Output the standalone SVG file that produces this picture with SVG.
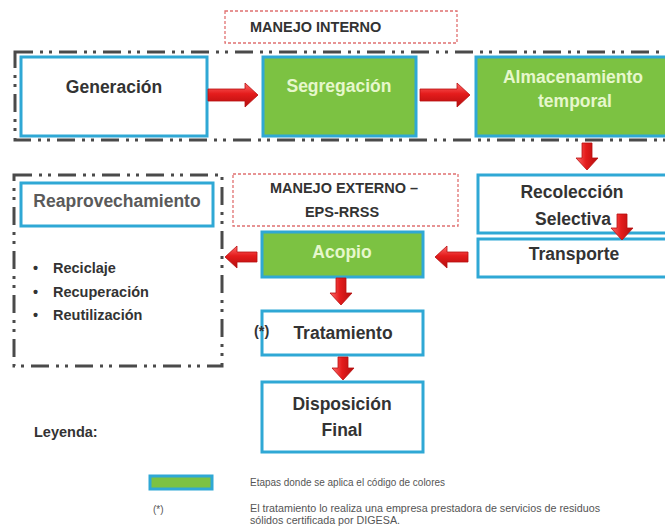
<svg xmlns="http://www.w3.org/2000/svg" width="665" height="528" viewBox="0 0 665 528">
<style>
  .node { stroke: #2fa8d5; stroke-width: 3; }
  .white { fill: #ffffff; }
  .green { fill: #7cc242; }
  .t { font-family: "Liberation Sans", Arial, sans-serif; font-weight: bold; font-size: 17.5px; text-anchor: middle; fill: #333333; }
  .tg { fill: #e6f7cc; }
  .tgray { fill: #5a5a5a; }
  .lbl { font-family: "Liberation Sans", Arial, sans-serif; font-weight: bold; font-size: 14.5px; fill: #333333; }
  .dashred { fill: #ffffff; stroke: #e07070; stroke-width: 1.3; stroke-dasharray: 3 2; }
  .dashdot { fill: none; stroke: #4a4a4a; stroke-width: 3; stroke-dasharray: 18 7 3 6 3 7; }
  .arrow { fill: url(#red); stroke: #b80f0f; stroke-width: 0.8; }
  .arrowv { fill: url(#redv); stroke: #b80f0f; stroke-width: 0.8; }
  .small { font-family: "Liberation Sans", Arial, sans-serif; font-size: 10px; fill: #555555; }
</style>
<defs>
  <linearGradient id="red" x1="0" y1="0" x2="0" y2="1">
    <stop offset="0" stop-color="#ff6a6a"/>
    <stop offset="0.45" stop-color="#e41c1c"/>
    <stop offset="1" stop-color="#b30d0d"/>
  </linearGradient>
  <linearGradient id="redv" x1="0" y1="0" x2="1" y2="0">
    <stop offset="0" stop-color="#ff6a6a"/>
    <stop offset="0.45" stop-color="#e41c1c"/>
    <stop offset="1" stop-color="#b30d0d"/>
  </linearGradient>
</defs>
<rect width="665" height="528" fill="#ffffff"/>

<!-- boundaries -->
<g id="interno-frame">
  <rect class="dashdot" x="15" y="52" width="690" height="88"/>
</g>
<g id="reaprovechamiento-frame">
  <rect class="dashdot" x="14" y="175" width="208" height="191"/>
</g>

<g id="manejo-interno">
  <rect class="dashred" x="225" y="11" width="232" height="32"/>
  <text class="lbl" x="250" y="32">MANEJO INTERNO</text>
</g>
<g id="manejo-externo">
  <rect class="dashred" x="233" y="174" width="225" height="52"/>
  <text class="lbl" x="344" y="193" text-anchor="middle">MANEJO EXTERNO –</text>
  <text class="lbl" x="342" y="217" text-anchor="middle">EPS-RRSS</text>
</g>

<g id="generacion">
  <rect class="node white" x="21" y="57" width="186" height="79"/>
  <text class="t" x="114" y="93">Generación</text>
</g>
<g id="segregacion">
  <rect class="node green" x="263" y="57" width="153" height="79"/>
  <text class="t tg" x="339" y="92">Segregación</text>
</g>
<g id="almacenamiento">
  <rect class="node green" x="476" y="57" width="200" height="79"/>
  <text class="t tg" x="573" y="83">Almacenamiento</text>
  <text class="t tg" x="575" y="107">temporal</text>
</g>
<g id="recoleccion">
  <rect class="node white" x="478" y="175" width="200" height="58"/>
  <text class="t" x="572" y="198">Recolección</text>
  <text class="t" x="573" y="225">Selectiva</text>
</g>
<g id="transporte">
  <rect class="node white" x="478" y="239" width="200" height="38"/>
  <text class="t" x="574" y="260">Transporte</text>
</g>
<g id="acopio">
  <rect class="node green" x="262" y="232" width="161" height="45"/>
  <text class="t tg" x="342" y="258">Acopio</text>
</g>
<g id="reaprovechamiento">
  <rect class="node white" x="21" y="183" width="192" height="43"/>
  <text class="t tgray" x="117" y="207">Reaprovechamiento</text>
  <text class="lbl" x="33" y="273" font-size="16">•</text>
  <text class="lbl" x="53" y="273" font-size="14">Reciclaje</text>
  <text class="lbl" x="33" y="297" font-size="16">•</text>
  <text class="lbl" x="53" y="297" font-size="14">Recuperación</text>
  <text class="lbl" x="33" y="320" font-size="16">•</text>
  <text class="lbl" x="53" y="320" font-size="14">Reutilización</text>
</g>
<g id="tratamiento">
  <rect class="node white" x="262" y="311" width="161" height="44"/>
  <text class="t" x="343" y="339">Tratamiento</text>
  <text class="lbl" x="254" y="336" font-size="14">(*)</text>
</g>
<g id="disposicion">
  <rect class="node white" x="262" y="382" width="161" height="70"/>
  <text class="t" x="342" y="410">Disposición</text>
  <text class="t" x="342" y="436">Final</text>
</g>

<g id="connectors">
  <path class="arrow" d="M208,89 H245 V83 L258,95 L245,107 V101 H208 Z"/>
  <path class="arrow" d="M420,89 H457 V83 L470,95 L457,107 V101 H420 Z"/>
  <path class="arrowv" d="M582,143 V158 H576 L587,170 L598,158 H592 V143 Z"/>
  <path class="arrowv" d="M617,214 V228 H611 L622,240 L633,228 H627 V214 Z"/>
  <path class="arrow" d="M468,252 H447 V246 L435,257 L447,268 V262 H468 Z"/>
  <path class="arrow" d="M257,252 H237 V246 L225,257 L237,268 V262 H257 Z"/>
  <path class="arrowv" d="M336,278 V293 H330 L341,305 L352,293 H346 V278 Z"/>
  <path class="arrowv" d="M338,357 V368 H332 L343,380 L354,368 H348 V357 Z"/>
</g>

<g id="legend">
  <text class="lbl" x="34" y="437" font-size="15">Leyenda:</text>
  <rect class="node green" x="150" y="476" width="62" height="13" stroke-width="2.5"/>
  <text class="small" x="250" y="486" textLength="195" lengthAdjust="spacingAndGlyphs">Etapas donde se aplica el código de colores</text>
  <text class="small" x="153" y="513">(*)</text>
  <text class="small" x="250" y="512" fill="#333333" textLength="350" lengthAdjust="spacingAndGlyphs">El tratamiento lo realiza una empresa prestadora de servicios de residuos</text>
  <text class="small" x="250" y="524" fill="#333333" textLength="150" lengthAdjust="spacingAndGlyphs">sólidos certificada por DIGESA.</text>
</g>
</svg>
